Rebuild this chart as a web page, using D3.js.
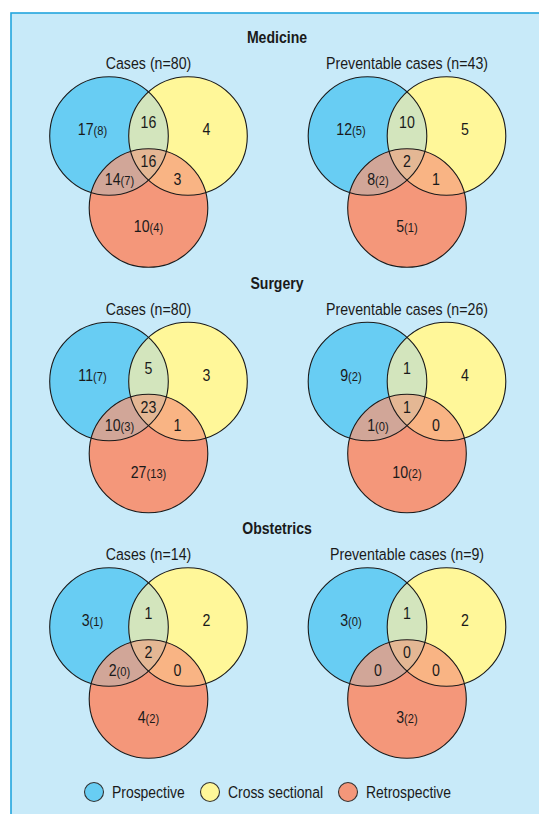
<!DOCTYPE html>
<html><head><meta charset="utf-8">
<script src="https://cdn.jsdelivr.net/npm/d3@7"></script>
<style>
body{margin:0;background:#fff;}
svg text{font-family:"Liberation Sans","Arial","Roboto",sans-serif;fill:#1a1a1a;}
</style></head>
<body><svg id="c" width="539" height="814"></svg>
<script>
// ---- data ----
const sections = ["Medicine", "Surgery", "Obstetrics"];
const panelTitles = [
  ["Cases (n=80)", "Preventable cases (n=43)"],
  ["Cases (n=80)", "Preventable cases (n=26)"],
  ["Cases (n=14)", "Preventable cases (n=9)"]
];
// region order: Prospective only, Pro∩Cross, Cross only, all three, Pro∩Retro, Cross∩Retro, Retro only
const regions = ["A", "AB", "B", "ABC", "AC", "BC", "C"];
const medicineCases       = [[17,8],[16],[4],[16],[14,7],[3],[10,4]];
const medicinePreventable = [[12,5],[10],[5],[2],[8,2],[1],[5,1]];
const surgeryCases        = [[11,7],[5],[3],[23],[10,3],[1],[27,13]];
const surgeryPreventable  = [[9,2],[1],[4],[1],[1,0],[0],[10,2]];
const obstetricsCases       = [[3,1],[1],[2],[2],[2,0],[0],[4,2]];
const obstetricsPreventable = [[3,0],[1],[2],[0],[0],[0],[3,2]];
const legendLabels = ["Prospective", "Cross sectional", "Retrospective"];

const venns = [
  [medicineCases, medicinePreventable],
  [surgeryCases, surgeryPreventable],
  [obstetricsCases, obstetricsPreventable]
];

// ---- style ----
const colA = "#68cdf3", colB = "#fff799", colC = "#f4977a";
const colAB = "#d3e5bd", colAC = "#d1a698", colBC = "#f9b484", colABC = "#e4b794";
const stroke = "#1a1a1a";

const svg = d3.select("#c");
svg.append("rect").attr("x", 11).attr("y", 13).attr("width", 560).attr("height", 820)
  .attr("fill", "#c8eaf9").attr("stroke", "#22a5de").attr("stroke-width", 1.6);

// condensed text helper
function ctext(sel, x, y, size, sx, anchor) {
  return sel.append("text").attr("transform", `translate(${x},${y}) scale(${sx},1)`)
    .attr("text-anchor", anchor || "middle").attr("font-size", size);
}

const xCol = d3.scalePoint().domain([0, 1]).range([148.5, 407]);
const yRow = d3.scalePoint().domain([0, 1, 2]).range([136, 627]);
const R = 59.3, dx = 39.5, dyC = 72;

// label offsets relative to venn centre (cx, cy = top circle centre)
const off = {A:[-56,-1], AB:[0,-8], B:[58,-1], ABC:[0,31], AC:[-29,49], BC:[29,49], C:[0,96]};

const defs = svg.append("defs");
let uid = 0;

sections.forEach((sec, r) => {
  const cy = yRow(r);
  ctext(svg, 277, cy - 93, 16, 0.88).attr("font-weight", "bold").text(sec);
  [0, 1].forEach(c => {
    const cx = xCol(c);
    const circ = {A:[cx - dx, cy], B:[cx + dx, cy], C:[cx, cy + dyC]};
    const g = svg.append("g");
    ctext(g, cx, cy - 67, 16.5, 0.86).text(panelTitles[r][c]);
    const ids = {};
    ["A", "B", "C"].forEach(k => {
      const id = "cp" + (uid++);
      ids[k] = id;
      defs.append("clipPath").attr("id", id).append("circle")
        .attr("cx", circ[k][0]).attr("cy", circ[k][1]).attr("r", R);
    });
    const circle = (sel, k, fill) => sel.append("circle").attr("cx", circ[k][0]).attr("cy", circ[k][1])
      .attr("r", R).attr("fill", fill);
    circle(g, "A", colA); circle(g, "B", colB); circle(g, "C", colC);
    circle(g.append("g").attr("clip-path", `url(#${ids.A})`), "B", colAB);
    circle(g.append("g").attr("clip-path", `url(#${ids.A})`), "C", colAC);
    circle(g.append("g").attr("clip-path", `url(#${ids.B})`), "C", colBC);
    circle(g.append("g").attr("clip-path", `url(#${ids.A})`).append("g").attr("clip-path", `url(#${ids.B})`), "C", colABC);
    ["A", "B", "C"].forEach(k => g.append("circle").attr("cx", circ[k][0]).attr("cy", circ[k][1])
      .attr("r", R).attr("fill", "none").attr("stroke", stroke).attr("stroke-width", 1.1));
    const vals = venns[r][c];
    regions.forEach((reg, i) => {
      const v = vals[i];
      const t = ctext(g, cx + off[reg][0], cy + off[reg][1], 16.5, 0.86);
      t.append("tspan").text(v[0]);
      if (v.length > 1) t.append("tspan").attr("font-size", 13).text("(" + v[1] + ")");
    });
  });
});

// legend
const leg = svg.append("g");
const lx = [94, 210, 348], lc = [colA, colB, colC];
legendLabels.forEach((l, i) => {
  leg.append("circle").attr("cx", lx[i]).attr("cy", 792).attr("r", 9.5).attr("fill", lc[i])
    .attr("stroke", "#333").attr("stroke-width", 1.1);
  ctext(leg, lx[i] + 18, 798, 16, 0.87, "start").text(l);
});
</script></body></html>
